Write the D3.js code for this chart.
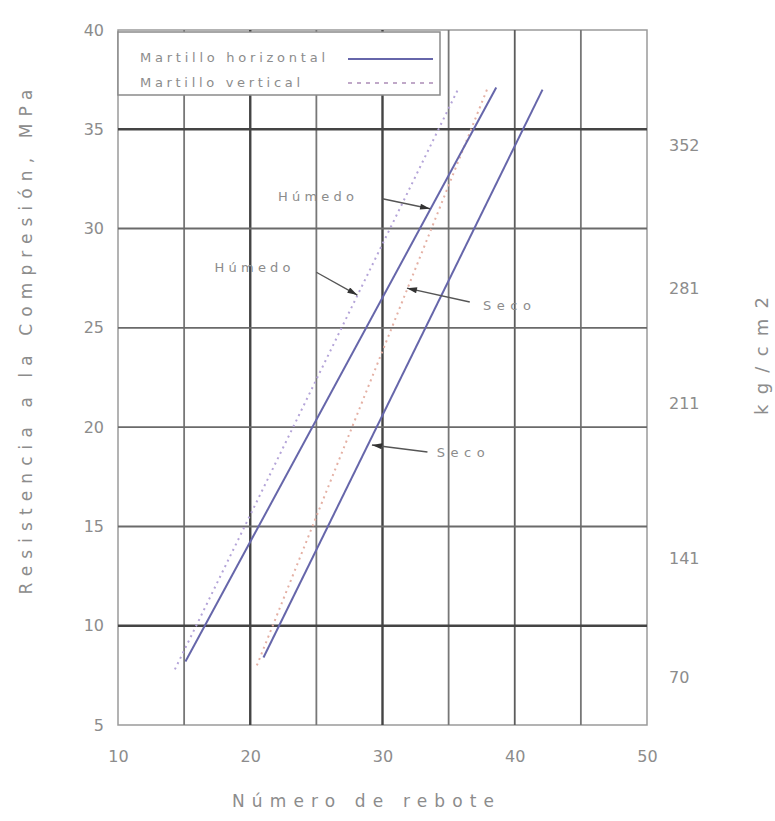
<!DOCTYPE html>
<html>
<head>
<meta charset="utf-8">
<script src="https://cdn.jsdelivr.net/npm/d3@7/dist/d3.min.js"></script>
<style>
body { margin: 0; background: #fff; }
text { font-family: "DejaVu Sans", sans-serif; fill: #8c8c8c; }
</style>
</head>
<body>
<script>
// values ---------------------------------------------------------------------
var xTicks = [10, 20, 30, 40, 50];
var yTicks = [5, 10, 15, 20, 25, 30, 35, 40];
var gridX = [15, 20, 25, 30, 35, 40, 45];
var gridY = [10, 15, 20, 25, 30, 35];

// right hand labels (kg/cm2) and the MPa height they are printed at
var kgLabels = ["352", "281", "211", "141", "70"];
var kgAt = [34.2, 27.0, 21.2, 13.4, 7.4];

// lines: [rebote, MPa]
var horHumedo = [[15.1, 8.2], [38.6, 37.1]];
var horSeco = [[21.0, 8.4], [42.1, 37.0]];
var verHumedo = [[14.3, 7.8], [35.7, 37.0]];
var verSeco = [[20.5, 8.0], [37.9, 37.0]];

// arrow notes: text, where the text starts, arrow tail, arrow tip
var noteText = ["Húmedo", "Húmedo", "Seco", "Seco"];
var noteAt = [[22.1, 31.4], [17.3, 27.8], [37.6, 25.9], [34.1, 18.5]];
var noteTail = [[30.0, 31.5], [25.0, 27.8], [36.6, 26.3], [33.4, 18.75]];
var noteTip = [[33.6, 31.0], [28.1, 26.65], [31.85, 27.0], [29.2, 19.1]];

// set up -------------------------------------------------------------------
var margin = {top: 30, right: 128, bottom: 96, left: 118},
    width = 775 - margin.left - margin.right,
    height = 821 - margin.top - margin.bottom;

var x = d3.scaleLinear().domain([10, 50]).range([0, width]),
    y = d3.scaleLinear().domain([5, 40]).range([height, 0]);

var svg = d3.select("body").append("svg")
    .attr("width", 775)
    .attr("height", 821)
  .append("g")
    .attr("transform", "translate(" + margin.left + "," + margin.top + ")");

// frame
svg.append("rect")
   .attr("width", width).attr("height", height)
   .attr("fill", "none").attr("stroke", "#9a9a9a").attr("stroke-width", 1.5);

// grid
var darkX = [20, 30], darkY = [10, 35];
svg.selectAll(".gx").data(gridX).enter().append("line")
   .attr("x1", function(d){ return x(d); }).attr("x2", function(d){ return x(d); })
   .attr("y1", 0).attr("y2", height)
   .attr("stroke", function(d){ return darkX.indexOf(d) >= 0 ? "#444" : (d == 40 ? "#5c5c5c" : "#777"); })
   .attr("stroke-width", function(d){ return darkX.indexOf(d) >= 0 ? 2.4 : 1.8; });

svg.selectAll(".gy").data(gridY).enter().append("line")
   .attr("x1", 0).attr("x2", width)
   .attr("y1", function(d){ return y(d); }).attr("y2", function(d){ return y(d); })
   .attr("stroke", function(d){ return darkY.indexOf(d) >= 0 ? "#444" : "#6a6a6a"; })
   .attr("stroke-width", function(d){ return darkY.indexOf(d) >= 0 ? 2.6 : 1.9; });

// axes (labels only, lines are the frame)
var xAxis = svg.append("g")
   .attr("transform", "translate(0," + height + ")")
   .call(d3.axisBottom(x).tickValues(xTicks).tickSize(0).tickPadding(26));
var yAxis = svg.append("g")
   .call(d3.axisLeft(y).tickValues(yTicks).tickSize(0).tickPadding(14));
[xAxis, yAxis].forEach(function(a){
  a.select(".domain").remove();
  a.selectAll("text").attr("font-family", "DejaVu Sans").attr("font-size", 16).attr("fill", "#8c8c8c");
});

// kg/cm2 labels on the right
svg.selectAll(".kg").data(kgLabels).enter().append("text")
   .attr("x", width + 22)
   .attr("y", function(d, i){ return y(kgAt[i]); })
   .attr("dy", "0.35em")
   .attr("font-size", 16)
   .text(function(d){ return d; });

// titles
svg.append("text")
   .attr("transform", "translate(" + (26 - margin.left) + "," + 312 + ") rotate(-90)")
   .attr("text-anchor", "middle").attr("dy", "0.35em")
   .attr("font-size", 17)
   .attr("textLength", 505).attr("lengthAdjust", "spacing")
   .text("Resistencia a la Compresión, MPa");

svg.append("text")
   .attr("x", 245).attr("y", height + 82)
   .attr("text-anchor", "middle")
   .attr("font-size", 17)
   .attr("textLength", 262).attr("lengthAdjust", "spacing")
   .text("Número de rebote");

svg.append("text")
   .attr("transform", "translate(" + (width + 115) + "," + 326 + ") rotate(-90)")
   .attr("text-anchor", "middle").attr("dy", "0.35em")
   .attr("font-size", 18)
   .attr("textLength", 118).attr("lengthAdjust", "spacing")
   .text("kg/cm2");

// data lines
var line = d3.line()
   .x(function(d){ return x(d[0]); })
   .y(function(d){ return y(d[1]); });

svg.append("path").datum(verHumedo).attr("d", line)
   .attr("fill", "none").attr("stroke", "#b4a4d8").attr("stroke-width", 2).attr("stroke-dasharray", "2,4");
svg.append("path").datum(verSeco).attr("d", line)
   .attr("fill", "none").attr("stroke", "#e4b0a4").attr("stroke-width", 2).attr("stroke-dasharray", "2,4");
svg.append("path").datum(horHumedo).attr("d", line)
   .attr("fill", "none").attr("stroke", "#6666aa").attr("stroke-width", 2);
svg.append("path").datum(horSeco).attr("d", line)
   .attr("fill", "none").attr("stroke", "#6666aa").attr("stroke-width", 2);

// notes with arrows
svg.append("defs").append("marker")
   .attr("id", "head").attr("viewBox", "0 0 10 6")
   .attr("refX", 10).attr("refY", 3)
   .attr("markerWidth", 13).attr("markerHeight", 6).attr("markerUnits", "userSpaceOnUse")
   .attr("orient", "auto")
 .append("path").attr("d", "M0,0L10,3L0,6Z").attr("fill", "#333");

noteText.forEach(function(t, i){
  svg.append("line")
     .attr("x1", x(noteTail[i][0])).attr("y1", y(noteTail[i][1]))
     .attr("x2", x(noteTip[i][0])).attr("y2", y(noteTip[i][1]))
     .attr("stroke", "#555").attr("stroke-width", 1.4)
     .attr("marker-end", "url(#head)");
  svg.append("text")
     .attr("x", x(noteAt[i][0])).attr("y", y(noteAt[i][1]))
     .attr("font-size", 13)
     .attr("textLength", t.length == 6 ? 76 : 48).attr("lengthAdjust", "spacing")
     .text(t);
});

// legend box
var lg = svg.append("g").attr("transform", "translate(0,2)");
lg.append("rect")
   .attr("x", 0).attr("y", 0).attr("width", 322).attr("height", 63)
   .attr("fill", "#fff").attr("stroke", "#8a8a8a").attr("stroke-width", 1.5);
lg.append("text").attr("x", 22).attr("y", 30).attr("font-size", 13).attr("fill", "#7c7c7c")
   .attr("textLength", 185).attr("lengthAdjust", "spacing").text("Martillo horizontal");
lg.append("text").attr("x", 22).attr("y", 55).attr("font-size", 13).attr("fill", "#7c7c7c")
   .attr("textLength", 160).attr("lengthAdjust", "spacing").text("Martillo vertical");
lg.append("line").attr("x1", 230).attr("x2", 315).attr("y1", 27).attr("y2", 27)
   .attr("stroke", "#6666aa").attr("stroke-width", 2);
lg.append("line").attr("x1", 230).attr("x2", 315).attr("y1", 51).attr("y2", 51)
   .attr("stroke", "#c0a8c8").attr("stroke-width", 2).attr("stroke-dasharray", "4,5");
</script>
</body>
</html>
